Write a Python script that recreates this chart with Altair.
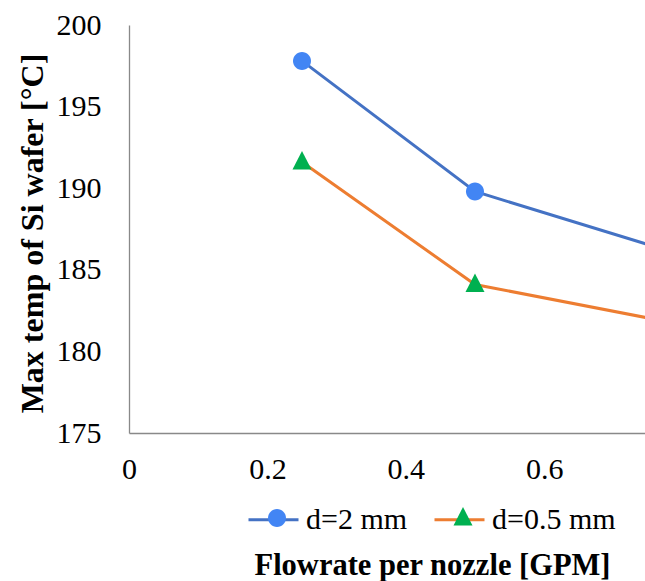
import altair as alt
import pandas as pd

flow_gpm = [0.25, 0.5, 1.0]
temp_d2 = [197.8, 189.8, 183.3]
temp_d05 = [191.6, 184.1, 180.0]
series_names = ["d=2 mm", "d=0.5 mm"]
x_ticks = [0, 0.2, 0.4, 0.6]
y_ticks = [175, 180, 185, 190, 195, 200]

line_colors = ["#4472C4", "#ED7D31"]
marker_colors = ["#4285F4", "#00B050"]
circle_path = "M0.36,0 A0.36,0.36 0 1,1 -0.36,0 A0.36,0.36 0 1,1 0.36,0 Z"
tri_path = "M0,-0.44 L0.38,0.3 L-0.38,0.3 Z"

rows = []
for name, vals in zip(series_names, [temp_d2, temp_d05]):
    for xv, yv in zip(flow_gpm, vals):
        rows.append({"x": xv, "temp": yv, "series": name, "marker": name})
df = pd.DataFrame(rows)

FONT = "Liberation Serif"
FS = 30
LX, LY = 118, 468

x_enc = alt.X("x:Q", scale=alt.Scale(domain=[0, 0.7457], nice=False, zero=False),
              axis=alt.Axis(values=x_ticks, format="~g", title="Flowrate per nozzle [GPM]",
                            labelFlush=False, titleX=303, titleAlign="center", titlePadding=66,
                            titleFontSize=30.5))
y_enc = alt.Y("temp:Q", scale=alt.Scale(domain=[175, 200], nice=False, zero=False),
              axis=alt.Axis(values=y_ticks, title="Max temp of Si wafer [°C]", titlePadding=7,
                            titleFontSize=32, titleY=208, titleAlign="center"))

common_legend = dict(orient="none", legendY=LY, direction="horizontal",
                     title=None, symbolSize=2500, labelFont=FONT, labelFontSize=FS,
                     labelColor="#000000", labelOffset=6, padding=0)

lines = alt.Chart(df).mark_line(clip=True, strokeWidth=3).encode(
    x=x_enc, y=y_enc,
    stroke=alt.Stroke("series:N",
                      scale=alt.Scale(domain=series_names, range=line_colors),
                      legend=alt.Legend(symbolType="stroke", symbolStrokeWidth=3, legendX=LX,
                                        columnPadding=20, **common_legend)),
    detail="series:N",
)

marker_legend = alt.Legend(labelExpr="''", symbolOpacity=1, symbolStrokeWidth=0, legendX=LX + 5,
                           columnPadding=130, **common_legend)
points = alt.Chart(df).mark_point(clip=True, filled=True, size=2500, opacity=1, strokeWidth=0).encode(
    x=x_enc, y=y_enc,
    fill=alt.Fill("marker:N",
                  scale=alt.Scale(domain=series_names, range=marker_colors),
                  legend=marker_legend),
    shape=alt.Shape("marker:N",
                    scale=alt.Scale(domain=series_names, range=[circle_path, tri_path]),
                    legend=marker_legend),
)

chart = alt.layer(lines, points).resolve_scale(stroke="independent", fill="independent", shape="independent").properties(
    width=516, height=408,
    autosize=alt.AutoSizeParams(type="none"),
    padding={"left": 129, "top": 25, "right": 0, "bottom": 148},
).configure(font=FONT).configure_view(stroke=None).configure_axis(
    grid=False, ticks=False, domainColor="#898989", domainWidth=1.3,
    labelFont=FONT, labelFontSize=FS, labelColor="#000000",
    titleFont=FONT, titleFontWeight="bold", titleColor="#000000",
).configure_axisX(labelPadding=21).configure_axisY(labelPadding=28)

chart.save("out.html", embed_options={"renderer": "svg", "actions": False})
